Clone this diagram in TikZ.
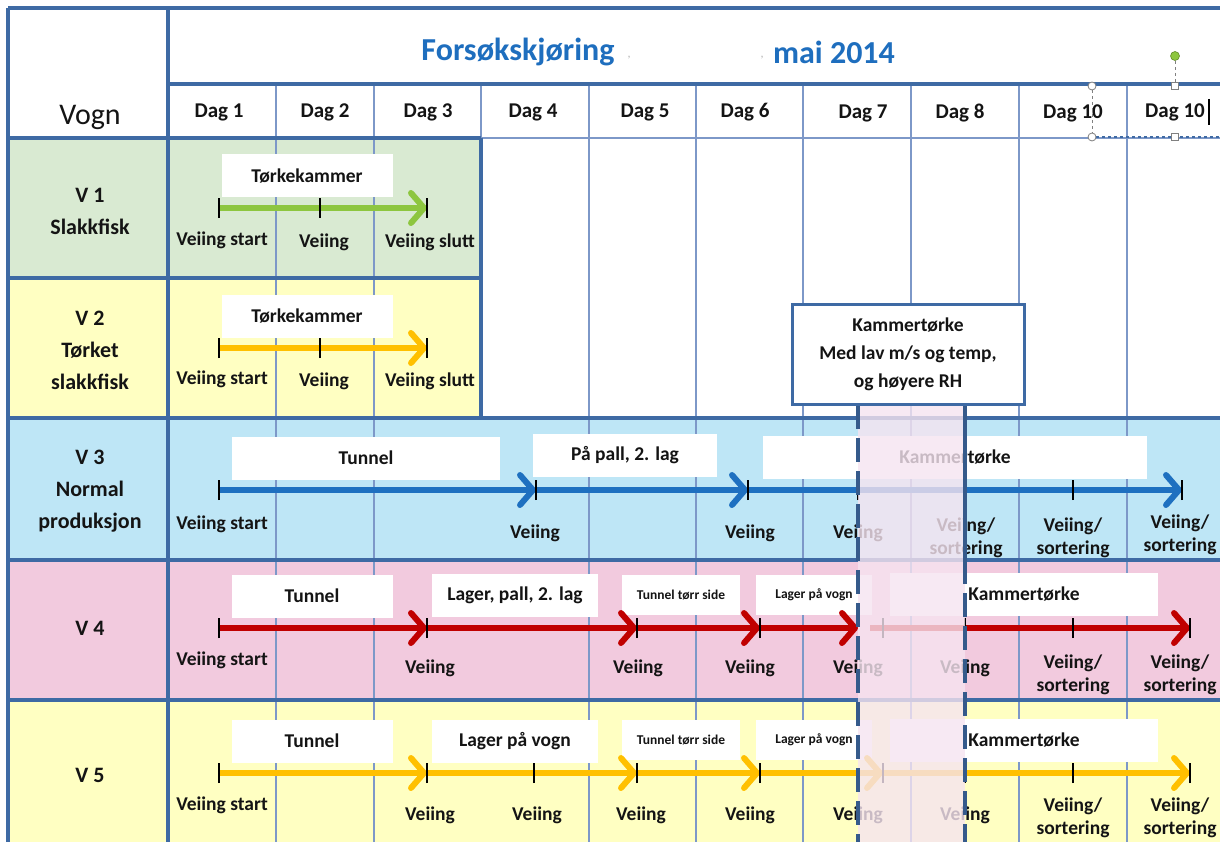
\documentclass[tikz,border=0pt]{standalone}
\usepackage{fontspec}
\setmainfont{Carlito}
\usetikzlibrary{arrows.meta}
\definecolor{bd}{RGB}{62,106,164}
\definecolor{thin}{RGB}{125,152,200}
\definecolor{bggrn}{RGB}{217,234,210}
\definecolor{bgyel}{RGB}{255,255,194}
\definecolor{bgblu}{RGB}{190,230,246}
\definecolor{bgpnk}{RGB}{242,202,222}
\definecolor{ttl}{RGB}{30,110,190}
\definecolor{agrn}{RGB}{141,198,63}
\definecolor{aorg}{RGB}{255,192,0}
\definecolor{ablu}{RGB}{30,112,192}
\definecolor{ared}{RGB}{192,0,0}
\definecolor{ovl}{RGB}{246,228,240}
\definecolor{txt}{RGB}{20,20,20}
\tikzset{
  thick line/.style={draw=bd, line width=3.5pt},
  thin line/.style={draw=thin, line width=1.1pt},
  tl/.style={line width=6pt, -{Straight Barb[length=13pt,width=30pt,round]}},
  tickmark/.style={line width=2.6pt, draw=black},
  lbl/.style={font=\bfseries\fontsize{19.5}{23}\selectfont, text=txt, align=center, inner sep=0pt},
  rowlbl/.style={font=\bfseries\fontsize{22}{32}\selectfont, text=txt, align=center, inner sep=0pt},
  daylbl/.style={font=\bfseries\fontsize{21}{24}\selectfont, text=txt, inner sep=0pt},
  wbox/.style={fill=white, draw=none, minimum width=#1, minimum height=43pt, inner sep=0pt, font=\bfseries\fontsize{19.5}{22}\selectfont, text=txt},
  sbox/.style={fill=white, draw=none, minimum width=#1, minimum height=40pt, inner sep=0pt, font=\bfseries\fontsize{13.5}{16}\selectfont, text=txt},
}
\begin{document}
\begin{tikzpicture}[x=1pt,y=-1pt]
\useasboundingbox (0,0) rectangle (1220,842);
\clip (0,0) rectangle (1220,842);
\fill[white] (0,0) rectangle (1220,842);
% row backgrounds
\fill[bggrn] (8,138) rectangle (481,278);
\fill[bgyel] (8,278) rectangle (481,418);
\fill[bgblu] (8,418) rectangle (1230,560);
\fill[bgpnk] (8,560) rectangle (1230,700);
\fill[bgyel] (8,700) rectangle (1230,850);
% thin grid lines
\foreach \x in {276,374,589,696,803,911,1019,1127}
  \draw[thin line] (\x,84) -- (\x,850);
\draw[thin line] (481,84) -- (481,138);
\draw[thin line] (481,138) -- (1230,138);
% thick lines
\draw[thick line] (8,8) -- (1230,8);
\draw[thick line] (8,8) -- (8,850);
\draw[thick line] (168,8) -- (168,850);
\draw[thick line] (168,84) -- (1230,84);
\draw[thick line] (8,138) -- (481,138);
\draw[thick line] (8,278) -- (481,278);
\draw[thick line] (481,138) -- (481,418);
\draw[thick line] (8,418) -- (1230,418);
\draw[thick line] (8,560) -- (1230,560);
\draw[thick line] (8,700) -- (1230,700);

% title
\node[font=\bfseries\fontsize{32}{38}\selectfont, text=ttl, inner sep=0pt] (t1) at (518,52) {Forsøkskjøring};
\node[font=\bfseries\fontsize{32}{38}\selectfont, text=ttl, inner sep=0pt] (t2) at (834,52) {mai 2014};
\node[font=\fontsize{12}{14}\selectfont, text=gray!60, inner sep=0pt] (c1) at (629,58) {,};
\node[font=\fontsize{12}{14}\selectfont, text=gray!60, inner sep=0pt] (c2) at (762,58) {,};
\node[font=\fontsize{30}{34}\selectfont, text=txt, inner sep=0pt] (vogn) at (90,117) {Vogn};
% day headers
\node[daylbl] (d1) at (219,112) {Dag 1};
\node[daylbl] (d2) at (325,112) {Dag 2};
\node[daylbl] (d3) at (428,112) {Dag 3};
\node[daylbl] (d4) at (533,112) {Dag 4};
\node[daylbl] (d5) at (645,112) {Dag 5};
\node[daylbl] (d6) at (745,112) {Dag 6};
\node[daylbl] (d7) at (863,113) {Dag 7};
\node[daylbl] (d8) at (960,113) {Dag 8};
\node[daylbl] (d9) at (1073,113) {Dag 10};
\node[daylbl] (d10) at (1175,112) {Dag 10};

% row labels
\node[rowlbl] (r1) at (90,211) {V 1\\Slakkfisk};
\node[rowlbl] (r2) at (90,350) {V 2\\Tørket\\slakkfisk};
\node[rowlbl] (r3) at (90,491) {V 3\\Normal\\produksjon};
\node[rowlbl] (r4) at (90,628) {V 4};
\node[rowlbl] (r5) at (90,775) {V 5};

% ---------- V1 ----------
\node[wbox=171] (b1) at (307,176) {Tørkekammer};
\coordinate (p1a) at (219,208); \coordinate (p1b) at (320,208); \coordinate (p1c) at (427,208);
\draw[tl, agrn] (p1a) -- (p1c);
\foreach \p in {p1a,p1b,p1c} \draw[tickmark] ([yshift=-10pt]\p) -- ([yshift=10pt]\p);
\node[lbl] (l1a) at (222,240) {Veiing start};
\node[lbl] (l1b) at (324,242) {Veiing};
\node[lbl] (l1c) at (430,242) {Veiing slutt};

% ---------- V2 ----------
\node[wbox=171] (b2) at (307,316) {Tørkekammer};
\coordinate (p2a) at (219,348); \coordinate (p2b) at (320,348); \coordinate (p2c) at (427,348);
\draw[tl, aorg] (p2a) -- (p2c);
\foreach \p in {p2a,p2b,p2c} \draw[tickmark] ([yshift=-10pt]\p) -- ([yshift=10pt]\p);
\node[lbl] (l2a) at (222,379) {Veiing start};
\node[lbl] (l2b) at (324,381) {Veiing};
\node[lbl] (l2c) at (430,381) {Veiing slutt};

% ---------- V3 ----------
\node[wbox=268] (b3a) at (366,458) {Tunnel};
\node[wbox=184] (b3b) at (625,455) {På pall, 2. lag};
\node[wbox=384] (b3c) at (955,457) {Kammertørke};
\coordinate (p3a) at (219,490); \coordinate (p3b) at (536,490); \coordinate (p3c) at (748,490);
\coordinate (p3d) at (858,490); \coordinate (p3e) at (965,490); \coordinate (p3f) at (1073,490);
\coordinate (p3g) at (1182,490);
\draw[tl, ablu] (p3a) -- (p3b);
\draw[tl, ablu] (p3b) -- (p3c);
\draw[tl, ablu] (p3c) -- (p3g);
\foreach \p in {p3a,p3b,p3c,p3d,p3e,p3f,p3g} \draw[tickmark] ([yshift=-10pt]\p) -- ([yshift=10pt]\p);
\node[lbl] (l3a) at (222,524) {Veiing start};
\node[lbl] (l3b) at (535,533) {Veiing};
\node[lbl] (l3c) at (750,533) {Veiing};
\node[lbl] (l3d) at (858,533) {Veiing};
\node[lbl] (l3e) at (966,538) {Veiing/\\sortering};
\node[lbl] (l3f) at (1073,538) {Veiing/\\sortering};
\node[lbl] (l3g) at (1180,535) {Veiing/\\sortering};

% ---------- V4 ----------
\node[wbox=161] (b4a) at (312,596) {Tunnel};
\node[wbox=166] (b4b) at (515,595) {Lager, pall, 2. lag};
\node[sbox=118] (b4c) at (681,595) {Tunnel tørr side};
\node[sbox=116] (b4d) at (814,595) {Lager på vogn};
\node[wbox=268] (b4e) at (1024,594) {Kammertørke};
\coordinate (p4a) at (219,628); \coordinate (p4b) at (427,628); \coordinate (p4c) at (637,628);
\coordinate (p4d) at (760,628); \coordinate (p4e) at (858,628); \coordinate (p4s) at (870,628);
\coordinate (p4f) at (883,628); \coordinate (p4g) at (965,628); \coordinate (p4h) at (1073,628);
\coordinate (p4i) at (1190,628);
\draw[tl, ared] (p4a) -- (p4b);
\draw[tl, ared] (p4b) -- (p4c);
\draw[tl, ared] (p4c) -- (p4d);
\draw[tl, ared] (p4d) -- (p4e);
\draw[tl, ared] (p4s) -- (p4i);
\foreach \p in {p4a,p4b,p4c,p4d,p4f,p4g,p4h,p4i} \draw[tickmark] ([yshift=-10pt]\p) -- ([yshift=10pt]\p);
\node[lbl] (l4a) at (222,660) {Veiing start};
\node[lbl] (l4b) at (430,668) {Veiing};
\node[lbl] (l4c) at (638,668) {Veiing};
\node[lbl] (l4d) at (750,668) {Veiing};
\node[lbl] (l4e) at (858,668) {Veiing};
\node[lbl] (l4f) at (965,668) {Veiing};
\node[lbl] (l4g) at (1073,675) {Veiing/\\sortering};
\node[lbl] (l4h) at (1180,675) {Veiing/\\sortering};

% ---------- V5 ----------
\node[wbox=161] (b5a) at (312,741) {Tunnel};
\node[wbox=166] (b5b) at (515,741) {Lager på vogn};
\node[sbox=118] (b5c) at (681,740) {Tunnel tørr side};
\node[sbox=116] (b5d) at (814,740) {Lager på vogn};
\node[wbox=268] (b5e) at (1024,740) {Kammertørke};
\coordinate (p5a) at (219,773); \coordinate (p5b) at (427,773); \coordinate (p5c) at (534,773);
\coordinate (p5d) at (637,773); \coordinate (p5e) at (760,773); \coordinate (p5f) at (883,773);
\coordinate (p5g) at (965,773); \coordinate (p5h) at (1073,773); \coordinate (p5i) at (1190,773);
\draw[tl, aorg] (p5a) -- (p5b);
\draw[tl, aorg] (p5b) -- (p5d);
\draw[tl, aorg] (p5d) -- (p5e);
\draw[tl, aorg] (p5e) -- (p5f);
\draw[tl, aorg] (p5f) -- (p5i);
\foreach \p in {p5a,p5b,p5c,p5d,p5e,p5f,p5g,p5h,p5i} \draw[tickmark] ([yshift=-10pt]\p) -- ([yshift=10pt]\p);
\node[lbl] (l5a) at (222,805) {Veiing start};
\node[lbl] (l5b) at (430,815) {Veiing};
\node[lbl] (l5c) at (537,815) {Veiing};
\node[lbl] (l5d) at (641,815) {Veiing};
\node[lbl] (l5e) at (750,815) {Veiing};
\node[lbl] (l5f) at (858,815) {Veiing};
\node[lbl] (l5g) at (965,815) {Veiing};
\node[lbl] (l5h) at (1073,818) {Veiing/\\sortering};
\node[lbl] (l5i) at (1180,818) {Veiing/\\sortering};

% ---------- overlay and callout ----------
\fill[ovl, opacity=0.8] (858,405) rectangle (965,850);
\draw[bd!85!black, line width=4pt, dash pattern=on 24pt off 9pt] (858,405) -- (858,850);
\draw[bd!85!black, line width=4pt] (965,403) -- (965,560);
\draw[bd!85!black, line width=4pt, dash pattern=on 24pt off 9pt] (965,560) -- (965,850);
\node[fill=white, draw=bd, line width=3pt, minimum width=232pt, minimum height=100pt, inner sep=0pt,
      font=\bfseries\fontsize{19.5}{28}\selectfont, text=txt, align=center] (call) at (908,354)
      {Kammertørke\\Med lav m/s og temp,\\og høyere RH};

% ---------- selection handles ----------
\draw[gray, dashed, line width=0.8pt] (1092,90) -- (1092,133);
\draw[bd, dashed, line width=1.2pt] (1096,137) -- (1230,137);
\draw[gray, dashed, line width=0.8pt] (1175,61) -- (1175,82);
\node[circle, draw=gray, fill=white, line width=0.8pt, minimum size=8pt, inner sep=0pt] (h1) at (1092,86) {};
\node[circle, draw=gray, fill=white, line width=0.8pt, minimum size=8pt, inner sep=0pt] (h2) at (1092,137) {};
\node[rectangle, draw=gray, fill=white, line width=0.8pt, minimum size=7pt, inner sep=0pt] (h3) at (1175,86) {};
\node[rectangle, draw=gray, fill=white, line width=0.8pt, minimum size=7pt, inner sep=0pt] (h4) at (1175,137) {};
\node[circle, draw=agrn!70!black, fill=agrn, line width=0.6pt, minimum size=9pt, inner sep=0pt] (h5) at (1175,56) {};
\draw[black, line width=1.2pt] (1209,99) -- (1209,125);
\end{tikzpicture}
\end{document}
